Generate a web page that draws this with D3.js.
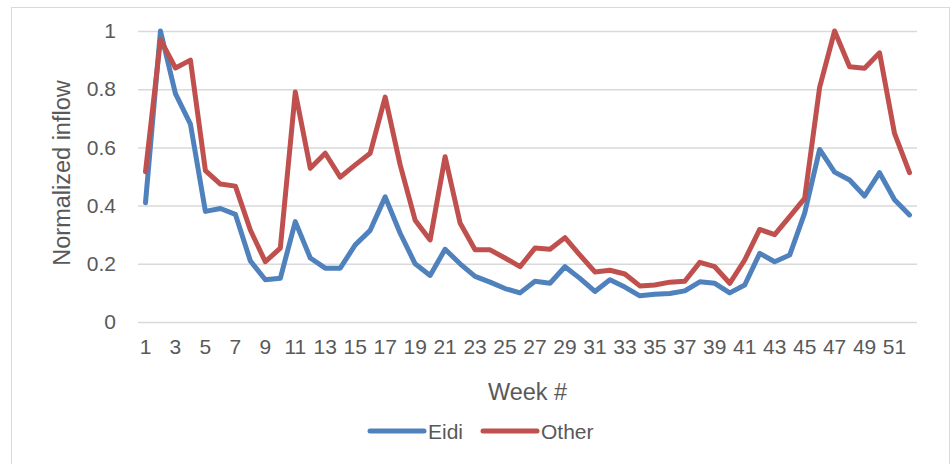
<!DOCTYPE html>
<html>
<head>
<meta charset="utf-8">
<script src="https://cdn.jsdelivr.net/npm/d3@7"></script>
<style>
  body { margin: 0; background: #fff; }
  text { font-family: "Liberation Sans", Arial, sans-serif; fill: #595959; }
</style>
</head>
<body>
<script>
const width = 952;
const height = 464;

// weekly normalized inflow
const weeks = d3.range(1, 53);
const eidi = [0.41, 1.0, 0.785, 0.68, 0.38, 0.39, 0.37, 0.21, 0.145, 0.15,
  0.345, 0.22, 0.185, 0.185, 0.265, 0.315, 0.43, 0.305, 0.2, 0.16,
  0.25, 0.2, 0.157, 0.137, 0.115, 0.1, 0.14, 0.133, 0.19, 0.15,
  0.105, 0.145, 0.12, 0.09, 0.095, 0.098, 0.107, 0.138, 0.133, 0.1,
  0.127, 0.236, 0.207, 0.23, 0.374, 0.593, 0.515, 0.488, 0.433, 0.513,
  0.42, 0.368];
const other = [0.516, 0.97, 0.873, 0.9, 0.52, 0.474, 0.467, 0.316, 0.207, 0.254,
  0.79, 0.528, 0.58, 0.498, 0.54, 0.58, 0.773, 0.54, 0.35, 0.282,
  0.568, 0.34, 0.248, 0.248, 0.22, 0.19, 0.254, 0.25, 0.29, 0.23,
  0.172, 0.178, 0.165, 0.124, 0.127, 0.137, 0.14, 0.205, 0.19, 0.133,
  0.213, 0.318, 0.3, 0.362, 0.425, 0.806, 1.0, 0.877, 0.872, 0.925,
  0.648, 0.513];
const yTicks = [0, 0.2, 0.4, 0.6, 0.8, 1];
const xTicks = weeks.filter(w => w % 2 === 1);

const series = [
  { name: "Eidi", values: eidi, color: "#4f81bd" },
  { name: "Other", values: other, color: "#c0504d" }
];

const plot = { left: 138, right: 917, top: 31, bottom: 322 };

let svg = d3.select("body")
  .append("svg")
    .attr("width", width)
    .attr("height", height);

// chart border
svg.append("rect")
  .attr("x", 11.5).attr("y", 7.5)
  .attr("width", 938).attr("height", 470)
  .attr("fill", "none")
  .attr("stroke", "#d9d9d9")
  .attr("stroke-width", 1);

let x = d3.scaleBand()
  .domain(weeks)
  .range([plot.left, plot.right]);

let y = d3.scaleLinear()
  .domain([0, 1])
  .range([plot.bottom, plot.top]);

// gridlines + y tick labels
let yAxis = svg.append("g")
  .attr("transform", "translate(" + plot.left + ",0)")
  .call(d3.axisLeft(y)
    .tickValues(yTicks)
    .tickFormat(d3.format("~g"))
    .tickSize(-(plot.right - plot.left))
    .tickPadding(22));
yAxis.select(".domain").remove();
yAxis.selectAll(".tick line")
  .attr("stroke", "#d9d9d9")
  .attr("stroke-width", 1.5);
yAxis.selectAll(".tick text")
  .style("font-size", "21px")
  .attr("fill", "#595959");

// x tick labels
let xAxis = svg.append("g")
  .attr("transform", "translate(0," + plot.bottom + ")")
  .call(d3.axisBottom(x)
    .tickValues(xTicks)
    .tickSize(0)
    .tickPadding(17));
xAxis.select(".domain").remove();
xAxis.selectAll(".tick text")
  .style("font-size", "21px")
  .attr("fill", "#595959");

// axis titles
svg.append("text")
  .attr("x", (plot.left + plot.right) / 2)
  .attr("y", 400)
  .attr("text-anchor", "middle")
  .style("font-size", "23.5px")
  .text("Week #");

svg.append("text")
  .attr("transform", "translate(70," + 173 + ") rotate(-90)")
  .attr("text-anchor", "middle")
  .style("font-size", "23.5px")
  .text("Normalized inflow");

// lines
let line = d3.line()
  .x((d, i) => x(weeks[i]) + x.bandwidth() / 2)
  .y(d => y(d));

svg.selectAll("path.series")
  .data(series)
  .enter()
  .append("path")
    .attr("class", "series")
    .attr("d", d => line(d.values))
    .attr("fill", "none")
    .attr("stroke", d => d.color)
    .attr("stroke-width", 5)
    .attr("stroke-linejoin", "round")
    .attr("stroke-linecap", "round");

// legend
const legendX = [370, 483];
let legend = svg.selectAll("g.legend")
  .data(series)
  .enter()
  .append("g")
    .attr("class", "legend")
    .attr("transform", (d, i) => "translate(" + legendX[i] + ",431)");

legend.append("line")
  .attr("x1", 0).attr("x2", 54)
  .attr("stroke", d => d.color)
  .attr("stroke-width", 5)
  .attr("stroke-linecap", "round");

legend.append("text")
  .attr("x", 58)
  .attr("y", 7.5)
  .style("font-size", "21px")
  .text(d => d.name);
</script>
</body>
</html>
